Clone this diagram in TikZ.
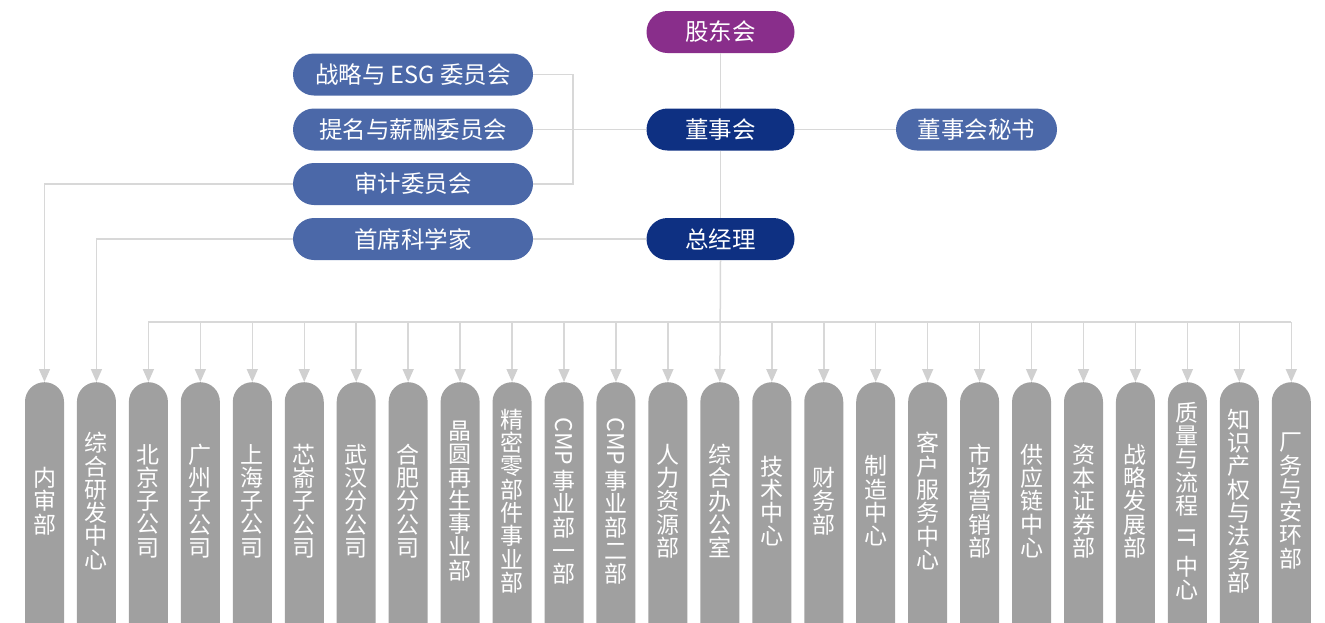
\documentclass[tikz,border=0pt]{standalone}
\usepackage{fontspec}
\usepackage{graphicx}
\setmainfont{Noto Sans CJK SC}
\usetikzlibrary{arrows.meta}
\definecolor{cpurple}{RGB}{137,46,139}
\definecolor{cnavy}{RGB}{14,48,130}
\definecolor{cmid}{RGB}{75,104,168}
\definecolor{cgray}{RGB}{160,160,160}
\definecolor{cline}{RGB}{216,216,216}
\definecolor{carrow}{RGB}{208,208,208}
\tikzset{
  topbox/.style={rectangle, rounded corners=21pt, minimum height=42pt, inner sep=0pt,
    text=white, font=\fontsize{23.5}{26}\selectfont},
  deptbox/.style={rectangle, rounded corners=19.5pt, minimum width=39pt, minimum height=290pt,
    inner sep=0pt, fill=cgray, anchor=north},
  vtext/.style={inner sep=0pt, align=center, text=white, font=\fontsize{23}{23.3}\selectfont},
  conn/.style={draw=cline, line width=1.5pt},
  arr/.style={conn, -{Triangle[width=11pt,length=13pt,fill=carrow,color=carrow]}},
}
\newcommand{\rlat}[1]{\rotatebox{-90}{#1}}
\newcommand{\rlatc}[1]{\rotatebox[origin=c]{-90}{#1}}
\begin{document}
\begin{tikzpicture}[x=1pt,y=-1pt]
\useasboundingbox (0,0) rectangle (1325,622);
\clip (0,0) rectangle (1325,622);
% top nodes
\node[topbox, fill=cpurple, minimum width=148pt] (gd) at (720.5,32) {股东会};
\node[topbox, fill=cnavy, minimum width=148pt] (dsh) at (720.5,129.5) {董事会};
\node[topbox, fill=cnavy, minimum width=148pt] (zjl) at (720.5,239) {总经理};
\node[topbox, fill=cmid, minimum width=240pt] (c1) at (413,74.5) {战略与 ESG 委员会};
\node[topbox, fill=cmid, minimum width=240pt] (c2) at (413,129.5) {提名与薪酬委员会};
\node[topbox, fill=cmid, minimum width=240pt] (c3) at (413,184) {审计委员会};
\node[topbox, fill=cmid, minimum width=240pt] (sk) at (413,239) {首席科学家};
\node[topbox, fill=cmid, minimum width=161pt] (ms) at (976.5,129.5) {董事会秘书};
% department boxes
\foreach \t [count=\i] in {
  {内\\审\\部},
  {综\\合\\研\\发\\中\\心},
  {北\\京\\子\\公\\司},
  {广\\州\\子\\公\\司},
  {上\\海\\子\\公\\司},
  {芯\\嵛\\子\\公\\司},
  {武\\汉\\分\\公\\司},
  {合\\肥\\分\\公\\司},
  {晶\\圆\\再\\生\\事\\业\\部},
  {精\\密\\零\\部\\件\\事\\业\\部},
  {\rlat{CMP}\\[4pt]事\\业\\部\\一\\部},
  {\rlat{CMP}\\[4pt]事\\业\\部\\二\\部},
  {人\\力\\资\\源\\部},
  {综\\合\\办\\公\\室},
  {技\\术\\中\\心},
  {财\\务\\部},
  {制\\造\\中\\心},
  {客\\户\\服\\务\\中\\心},
  {市\\场\\营\\销\\部},
  {供\\应\\链\\中\\心},
  {资\\本\\证\\券\\部},
  {战\\略\\发\\展\\部},
  {质\\量\\与\\流\\程\\[8pt]\rlatc{IT}\\[6pt]中\\心},
  {知\\识\\产\\权\\与\\法\\务\\部},
  {厂\\务\\与\\安\\环\\部}} {
  \node[deptbox] (b\i) at ({44.5+(\i-1)*51.95},382) {};
  \node[vtext] (t\i) at ([yshift=-119pt]b\i.north) {\t};
}
% connectors
\coordinate (bus) at (0,322);
\draw[conn] (gd.south) -- (dsh.north);
\draw[conn] (dsh.south) -- (zjl.north);
\draw[conn] (c1.east) -- ([xshift=40pt]c1.east) |- (c3.east);
\draw[conn] (c2.east) -- (dsh.west);
\draw[conn] (dsh.east) -- (ms.west);
\draw[conn] (sk.east) -- (zjl.west);
\draw[conn] (b3.north |- bus) -- (b25.north |- bus);
\draw[arr] (zjl.south) -- (b14.north);
\foreach \i in {3,...,13,15,16,...,25} {
  \draw[arr] (b\i.north |- bus) -- (b\i.north);
}
\draw[arr] (c3.west) -| (b1.north);
\draw[arr] (sk.west) -| (b2.north);
\end{tikzpicture}
\end{document}
